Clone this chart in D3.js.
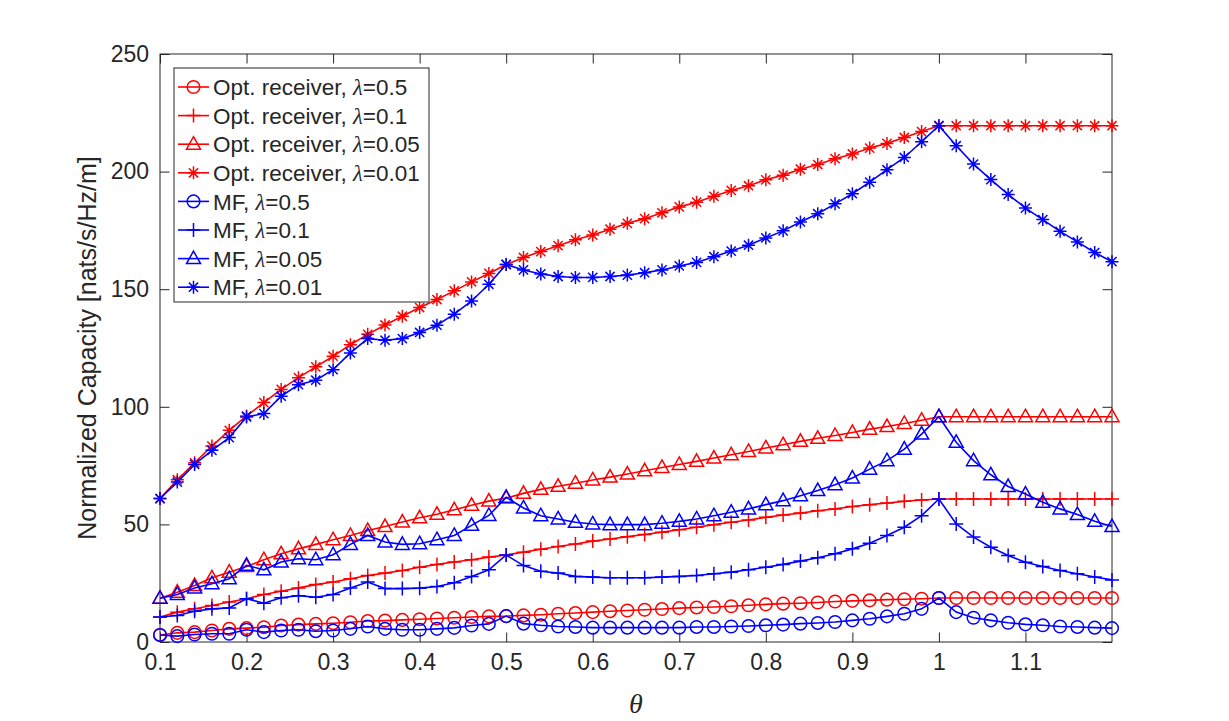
<!DOCTYPE html>
<html>
<head>
<meta charset="utf-8">
<script src="https://cdn.jsdelivr.net/npm/d3@7"></script>
<style>
  html, body { margin: 0; padding: 0; background: #fff; }
  svg { display: block; }
  text { font-family: "Liberation Sans", Arial, sans-serif; fill: #262626; }
</style>
</head>
<body>
<svg id="chart" width="1229" height="721"></svg>
<script>
// theta grid (0.1 : 0.02 : 1.2)
var theta = [0.10, 0.12, 0.14, 0.16, 0.18, 0.20, 0.22, 0.24, 0.26, 0.28,
  0.30, 0.32, 0.34, 0.36, 0.38, 0.40, 0.42, 0.44, 0.46, 0.48,
  0.50, 0.52, 0.54, 0.56, 0.58, 0.60, 0.62, 0.64, 0.66, 0.68,
  0.70, 0.72, 0.74, 0.76, 0.78, 0.80, 0.82, 0.84, 0.86, 0.88,
  0.90, 0.92, 0.94, 0.96, 0.98, 1.00,
  1.02, 1.04, 1.06, 1.08, 1.10, 1.12, 1.14, 1.16, 1.18, 1.20];

var optL05 = [3.0, 3.9, 4.2, 4.9, 5.6, 5.9, 6.3, 7.0, 7.4, 7.7,
  8.0, 8.4, 8.9, 9.1, 9.4, 9.7, 10.0, 10.3, 10.6, 10.9,
  11.0, 11.3, 11.6, 12.0, 12.3, 12.7, 13.1, 13.4, 13.7, 14.0,
  14.4, 14.7, 14.9, 15.2, 15.6, 16.0, 16.3, 16.5, 16.8, 17.2,
  17.5, 17.7, 18.0, 18.2, 18.4, 18.7,
  18.7, 18.7, 18.7, 18.7, 18.7, 18.7, 18.7, 18.7, 18.7, 18.7];
var optL01 = [10.6, 12.7, 14.1, 15.5, 17.0, 18.4, 20.2, 21.6, 23.0, 24.4,
  25.5, 26.9, 28.3, 29.3, 30.4, 31.8, 33.0, 34.0, 35.0, 36.1,
  37.0, 38.2, 39.4, 40.6, 41.7, 42.9, 43.8, 44.8, 45.7, 46.7,
  47.7, 48.8, 49.9, 50.9, 51.9, 53.0, 54.0, 54.8, 55.8, 56.6,
  57.6, 58.4, 59.1, 59.8, 60.4, 60.8,
  60.8, 60.8, 60.8, 60.8, 60.8, 60.8, 60.8, 60.8, 60.8, 60.8];
var optL005 = [18.6, 21.2, 24.0, 27.3, 29.7, 32.1, 35.0, 37.5, 39.6, 41.5,
  43.5, 45.3, 47.4, 49.1, 51.0, 52.8, 54.3, 56.2, 58.1, 59.9,
  61.2, 63.2, 64.9, 66.2, 67.5, 68.9, 70.1, 71.4, 72.8, 74.2,
  75.5, 76.8, 78.2, 79.6, 81.0, 82.5, 83.9, 85.3, 86.6, 87.8,
  89.1, 90.5, 91.6, 92.9, 94.3, 95.8,
  95.8, 95.8, 95.8, 95.8, 95.8, 95.8, 95.8, 95.8, 95.8, 95.8];
var optL001 = [61, 69, 76.2, 83.3, 90, 96.1, 101.8, 107.4, 112.4, 117,
  121.5, 126.4, 130.8, 134.8, 138.5, 142.2, 145.6, 149.3, 153.1, 156.7,
  160.5, 163.5, 166, 168.5, 171, 173, 175.5, 178, 180, 182.5,
  185, 187, 189.5, 192, 194, 196.5, 198.5, 201, 203, 205.5,
  207.5, 210, 212, 214.5, 217, 219.5,
  219.5, 219.5, 219.5, 219.5, 219.5, 219.5, 219.5, 219.5, 219.5, 219.5];

var mfL05 = [3.0, 2.5, 3.2, 3.5, 3.5, 5.2, 4.2, 4.9, 5.2, 4.6,
  4.9, 5.6, 6.6, 5.6, 5.2, 5.2, 5.6, 6.0, 7.0, 7.7,
  11.0, 7.8, 7.1, 6.6, 6.4, 6.1, 6.1, 6.1, 6.1, 6.1,
  6.1, 6.4, 6.4, 6.6, 6.8, 7.1, 7.4, 7.8, 8.1, 8.5,
  9.2, 9.9, 10.9, 12.0, 14.1, 18.7,
  12.7, 10.3, 9.2, 8.2, 7.5, 7.1, 6.6, 6.4, 6.1, 5.9];
var mfL01 = [10.6, 11.3, 13.1, 14.1, 14.5, 18.4, 16.5, 18.8, 19.7, 19.0,
  20.2, 23.0, 25.5, 22.7, 22.7, 22.9, 23.6, 25.2, 27.9, 30.7,
  37.0, 32.5, 30.1, 29.3, 27.9, 27.6, 27.3, 27.3, 27.3, 27.6,
  27.9, 28.3, 29.0, 29.7, 30.7, 31.8, 33.0, 34.4, 35.8, 37.5,
  39.6, 42.0, 45.3, 48.8, 53.7, 60.8,
  50.2, 44.6, 40.3, 36.8, 33.9, 32.1, 30.4, 29.0, 27.6, 26.4];
var mfL005 = [18.6, 20.2, 23.0, 24.8, 26.9, 32.6, 30.7, 34.0, 35.4, 35.0,
  37.1, 41.5, 45.3, 42.5, 41.5, 41.8, 43.5, 45.3, 49.6, 53.8,
  61.5, 57.0, 53.7, 52.3, 50.9, 50.2, 49.9, 49.9, 49.9, 50.5,
  51.3, 52.3, 53.7, 55.2, 56.6, 58.4, 60.1, 62.2, 64.4, 66.9,
  69.7, 73.5, 77.1, 82.0, 88.4, 95.8,
  84.9, 77.1, 71.1, 66.1, 62.9, 59.4, 56.6, 54.2, 51.3, 49.1];
var mfL001 = [61, 68, 75.5, 81.5, 86.9, 95.7, 97.1, 104.5, 109.4, 111.3,
  115.8, 122.9, 129, 128.3, 129, 131.6, 134.7, 139.4, 145, 152.1,
  160.5, 158.2, 156.5, 155.4, 155, 155, 155.4, 156, 157, 158.2,
  159.9, 161.4, 163.8, 166.2, 168.7, 171.8, 174.8, 178.6, 182.1, 186.3,
  190.6, 195.5, 200.8, 206, 212.7, 219.5,
  211, 203.2, 196.6, 190.3, 184.5, 179.6, 174.6, 170.1, 165.6, 161.7];

var xTicks = [0.1, 0.2, 0.3, 0.4, 0.5, 0.6, 0.7, 0.8, 0.9, 1.0, 1.1];
var yTicks = [0, 50, 100, 150, 200, 250];

var seriesList = [
  { prefix: 'Opt. receiver, ', lam: '0.5', color: '#ff0000', marker: 'circle', values: optL05 },
  { prefix: 'Opt. receiver, ', lam: '0.1', color: '#ff0000', marker: 'plus', values: optL01 },
  { prefix: 'Opt. receiver, ', lam: '0.05', color: '#ff0000', marker: 'triangle', values: optL005 },
  { prefix: 'Opt. receiver, ', lam: '0.01', color: '#ff0000', marker: 'star', values: optL001 },
  { prefix: 'MF, ', lam: '0.5', color: '#0000ff', marker: 'circle', values: mfL05 },
  { prefix: 'MF, ', lam: '0.1', color: '#0000ff', marker: 'plus', values: mfL01 },
  { prefix: 'MF, ', lam: '0.05', color: '#0000ff', marker: 'triangle', values: mfL005 },
  { prefix: 'MF, ', lam: '0.01', color: '#0000ff', marker: 'star', values: mfL001 }
];

var margin = { left: 160, right: 1112, top: 54, bottom: 642 };
var svg = d3.select('#chart');

var x = d3.scaleLinear().domain([0.1, 1.2]).range([margin.left, margin.right]);
var y = d3.scaleLinear().domain([0, 250]).range([margin.bottom, margin.top]);

var tickLen = 9.5;
var fmt = function (d) { return String(+d.toFixed(1)); };

// axes, ticks pointing inward on all four sides
var gx = svg.append('g')
  .attr('transform', 'translate(0,' + margin.bottom + ')')
  .call(d3.axisBottom(x).tickValues(xTicks).tickFormat(fmt)
    .tickSizeInner(-tickLen).tickSizeOuter(0).tickPadding(12));
var gxTop = svg.append('g')
  .attr('transform', 'translate(0,' + margin.top + ')')
  .call(d3.axisTop(x).tickValues(xTicks).tickFormat('')
    .tickSizeInner(-tickLen).tickSizeOuter(0));
var gy = svg.append('g')
  .attr('transform', 'translate(' + margin.left + ',0)')
  .call(d3.axisLeft(y).tickValues(yTicks)
    .tickSizeInner(-tickLen).tickSizeOuter(0).tickPadding(11));
var gyRight = svg.append('g')
  .attr('transform', 'translate(' + margin.right + ',0)')
  .call(d3.axisRight(y).tickValues(yTicks).tickFormat('')
    .tickSizeInner(-tickLen).tickSizeOuter(0));

[gx, gxTop, gy, gyRight].forEach(function (g) {
  g.select('.domain').remove();
  g.selectAll('.tick line').attr('stroke', '#262626').attr('stroke-width', 1);
  g.selectAll('.tick text')
    .style('font-family', '"Liberation Sans", Arial, sans-serif')
    .style('font-size', '23px')
    .attr('fill', '#262626');
});

svg.append('rect')
  .attr('x', margin.left)
  .attr('y', margin.top)
  .attr('width', margin.right - margin.left)
  .attr('height', margin.bottom - margin.top)
  .attr('fill', 'none')
  .attr('stroke', '#262626')
  .attr('stroke-width', 1);

// labels
svg.append('text')
  .attr('transform', 'translate(96,' + ((margin.top + margin.bottom) / 2) + ') rotate(-90)')
  .attr('text-anchor', 'middle')
  .style('font-size', '25px')
  .text('Normalized Capacity [nats/s/Hz/m]');

svg.append('text')
  .attr('x', (margin.left + margin.right) / 2)
  .attr('y', 713)
  .attr('text-anchor', 'middle')
  .style('font-family', '"Liberation Serif", "Times New Roman", serif')
  .style('font-style', 'italic')
  .style('font-size', '28px')
  .text('θ');

// marker drawing
function drawMarker(g, type, color) {
  var sw = 1.5;
  if (type === 'circle') {
    g.append('circle').attr('r', 6.3).attr('fill', 'none')
      .attr('stroke', color).attr('stroke-width', sw);
  } else if (type === 'plus') {
    g.append('path').attr('d', 'M-7,0H7M0,-7V7')
      .attr('stroke', color).attr('stroke-width', sw).attr('fill', 'none');
  } else if (type === 'triangle') {
    g.append('path').attr('d', 'M0,-7.5L7,5L-7,5Z')
      .attr('stroke', color).attr('stroke-width', sw).attr('fill', 'none');
  } else if (type === 'star') {
    g.append('path').attr('d', 'M-6.5,0H6.5M0,-6.5V6.5M-4.6,-4.6L4.6,4.6M-4.6,4.6L4.6,-4.6')
      .attr('stroke', color).attr('stroke-width', sw).attr('fill', 'none');
  }
}

var line = d3.line()
  .x(function (d) { return x(d[0]); })
  .y(function (d) { return y(d[1]); });

var plot = svg.append('g');
seriesList.forEach(function (s) {
  var pts = theta.map(function (t, i) { return [t, s.values[i]]; });
  var g = plot.append('g');
  g.append('path')
    .attr('d', line(pts))
    .attr('fill', 'none')
    .attr('stroke', s.color)
    .attr('stroke-width', 1.6);
  g.selectAll('.mk')
    .data(pts)
    .enter().append('g')
    .attr('class', 'mk')
    .attr('transform', function (d) { return 'translate(' + x(d[0]) + ',' + y(d[1]) + ')'; })
    .each(function () { drawMarker(d3.select(this), s.marker, s.color); });
});

// legend
var lg = svg.append('g');
var lgX = 174, lgY = 68, lgW = 255, lgH = 234, rowH = 28.6, row0 = 87;
lg.append('rect')
  .attr('x', lgX).attr('y', lgY).attr('width', lgW).attr('height', lgH)
  .attr('fill', '#fff').attr('stroke', '#262626').attr('stroke-width', 1);
seriesList.forEach(function (s, i) {
  var cy = row0 + i * rowH;
  lg.append('line')
    .attr('x1', lgX + 4).attr('x2', lgX + 35)
    .attr('y1', cy).attr('y2', cy)
    .attr('stroke', s.color).attr('stroke-width', 1.6);
  var mg = lg.append('g').attr('transform', 'translate(' + (lgX + 19.5) + ',' + cy + ')');
  drawMarker(mg, s.marker, s.color);
  var t = lg.append('text')
    .attr('x', lgX + 39)
    .attr('y', cy)
    .attr('dy', '0.36em')
    .style('font-size', '22.5px')
    .attr('fill', '#000');
  t.append('tspan').text(s.prefix);
  t.append('tspan')
    .style('font-family', '"Liberation Serif", "Times New Roman", serif')
    .style('font-style', 'italic')
    .text('λ');
  t.append('tspan').text('=' + s.lam);
});
</script>
</body>
</html>
